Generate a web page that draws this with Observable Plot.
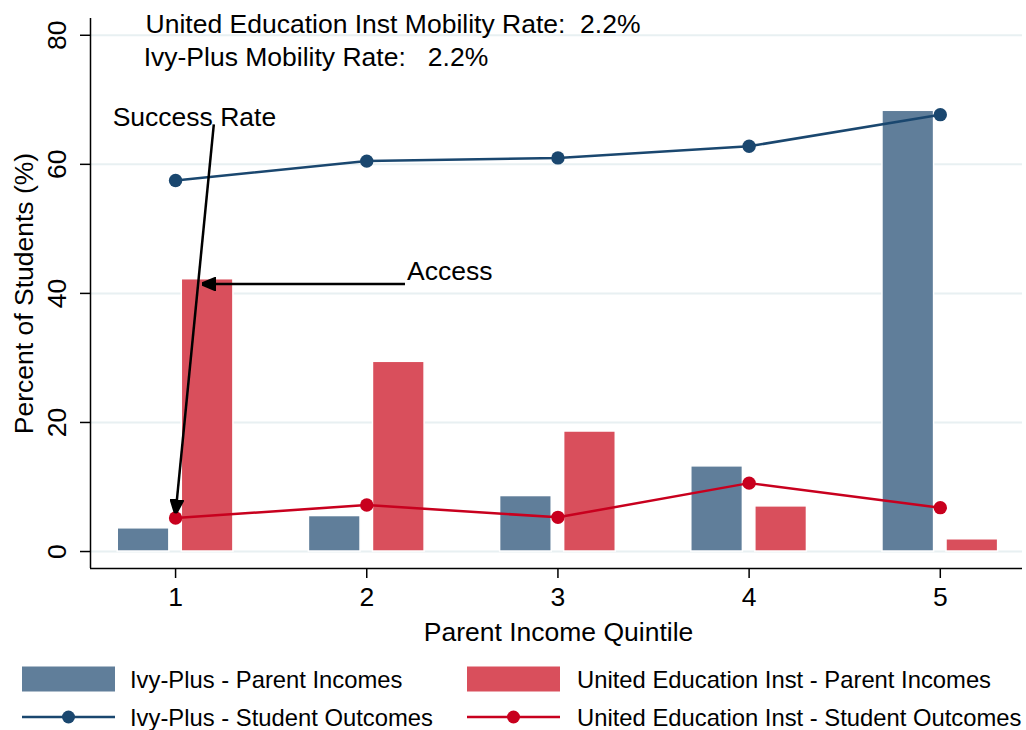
<!DOCTYPE html>
<html><head><meta charset="utf-8">
<script src="https://cdn.jsdelivr.net/npm/d3@7"></script>
<script src="https://cdn.jsdelivr.net/npm/@observablehq/plot@0.6"></script>
<style>
body{margin:0;background:#fff;}
#chart,#legend{width:1026px;font-family:"Liberation Sans",Arial,sans-serif;}
</style>
</head><body><div id="chart"></div><div id="legend"></div>
<script>
// ---- data ----
const quintiles = [1, 2, 3, 4, 5];
const ivyParent = [3.6, 5.5, 8.6, 13.2, 68.3];
const uniParent = [42.2, 29.4, 18.6, 7.0, 1.9];
const ivyOutcome = [57.5, 60.5, 61.0, 62.8, 67.7];
const uniOutcome = [5.2, 7.2, 5.3, 10.6, 6.8];
const yTicks = [0, 20, 40, 60, 80];
const seriesNames = ["Ivy-Plus - Parent Incomes", "United Education Inst - Parent Incomes",
                     "Ivy-Plus - Student Outcomes", "United Education Inst - Student Outcomes"];
const xTitle = "Parent Income Quintile";
const yTitle = "Percent of Students (%)";
const noteLabels = ["United Education Inst Mobility Rate:\u00a0\u00a02.2%",
                    "Ivy-Plus Mobility Rate:\u00a0\u00a0\u00a02.2%", "Success Rate", "Access"];
const noteX = [0.843, 0.833, 0.671, 2.211];
const noteY = [81.7, 76.6, 67.3, 43.4];
const arrowX1 = [1.2, 2.2], arrowY1 = [66.2, 41.45];
const arrowX2 = [1.0, 1.14], arrowY2 = [5.93, 41.45];

const xDomain = [0.555, 5.43];
const yDomain = [-2.63, 82.6];
const C = {ivyBar: "#607e9a", uniBar: "#d94f5c", ivyLine: "#1a476f", uniLine: "#c8001e", grid: "#e8f0f2"};

const barRows = quintiles.flatMap((q, i) => [
  {q, v: ivyParent[i], s: "ivy"}, {q, v: uniParent[i], s: "uni"}]);
const ivyRows = quintiles.map((q, i) => ({q, v: ivyOutcome[i]}));
const uniRows = quintiles.map((q, i) => ({q, v: uniOutcome[i]}));
const notes = noteLabels.map((t, i) => ({t, x: noteX[i], y: noteY[i]}));
const arrows = arrowX1.map((x, i) => ({x1: x, y1: arrowY1[i], x2: arrowX2[i], y2: arrowY2[i]}));

const BW = 0.27, OFF = 0.1675;
const FS = 26.5;

function filledArrow(color, context) {
  const doc = (context && context.document) || document;
  const ns = "http://www.w3.org/2000/svg";
  const m = doc.createElementNS(ns, "marker");
  m.setAttribute("viewBox", "-10 -5 10 10");
  m.setAttribute("markerWidth", "5.5");
  m.setAttribute("markerHeight", "5.5");
  m.setAttribute("orient", "auto");
  const p = doc.createElementNS(ns, "path");
  p.setAttribute("d", "M0,0L-10,-4.2L-10,4.2Z");
  p.setAttribute("fill", color);
  m.appendChild(p);
  return m;
}

function build(useCustom) {
  const arrowMark = useCustom
    ? Plot.link(arrows, {x1: "x1", y1: "y1", x2: "x2", y2: "y2", stroke: "black", strokeWidth: 2.5, markerEnd: filledArrow})
    : Plot.arrow(arrows, {x1: "x1", y1: "y1", x2: "x2", y2: "y2", stroke: "black", strokeWidth: 2.5, headLength: 14, headAngle: 45});
  return Plot.plot({
    width: 1026, height: 650,
    marginLeft: 90, marginRight: 4, marginTop: 18, marginBottom: 82,
    style: {fontFamily: '"Liberation Sans", Arial, sans-serif', fontSize: FS + "px", color: "black", background: "white", overflow: "visible"},
    x: {domain: xDomain},
    y: {domain: yDomain},
    marks: [
      Plot.ruleY(yTicks, {stroke: C.grid, strokeWidth: 2}),
      Plot.rect(barRows, {
        x1: d => d.q + (d.s === "ivy" ? -OFF : OFF) - BW / 2,
        x2: d => d.q + (d.s === "ivy" ? -OFF : OFF) + BW / 2,
        y1: d => 0, y2: "v",
        fill: d => d.s === "ivy" ? C.ivyBar : C.uniBar,
        stroke: "white", strokeWidth: 1.5
      }),
      Plot.line(ivyRows, {x: "q", y: "v", stroke: C.ivyLine, strokeWidth: 2.5}),
      Plot.dot(ivyRows, {x: "q", y: "v", r: 6.7, fill: C.ivyLine}),
      Plot.line(uniRows, {x: "q", y: "v", stroke: C.uniLine, strokeWidth: 2.5}),
      Plot.dot(uniRows, {x: "q", y: "v", r: 6.7, fill: C.uniLine}),
      arrowMark,
      Plot.text(notes, {x: "x", y: "y", text: "t", textAnchor: "start", lineAnchor: "middle", fontSize: FS, fill: "black"}),
      Plot.ruleX([xDomain[0]], {stroke: "black", strokeWidth: 1.5}),
      Plot.ruleY([yDomain[0]], {stroke: "black", strokeWidth: 1.5}),
      Plot.axisX({ticks: quintiles, tickSize: 10, tickPadding: 9, fontSize: FS, label: null, strokeWidth: 1.5, tickFormat: d => String(d)}),
      Plot.axisY({ticks: yTicks, tickSize: 10, label: null, strokeWidth: 1.5, tickFormat: () => ""}),
      Plot.text(yTicks, {y: d => d, text: d => String(d), frameAnchor: "left", dx: -33, rotate: -90, textAnchor: "middle", lineAnchor: "middle", fontSize: FS}),
      Plot.text([yTitle], {frameAnchor: "left", dx: -66, rotate: -90, textAnchor: "middle", lineAnchor: "middle", fontSize: FS}),
      Plot.text([xTitle], {frameAnchor: "bottom", dy: 64, dx: 2, textAnchor: "middle", lineAnchor: "middle", fontSize: FS})
    ]
  });
}

let chart;
try { chart = build(true); } catch (e) { chart = build(false); }
document.getElementById("chart").append(chart);

// ---- legend ----
const lg = d3.select("#legend").append("svg").attr("width", 1026).attr("height", 80)
  .style("font-family", '"Liberation Sans", Arial, sans-serif').style("display", "block");
const items = [
  {type: "bar", color: C.ivyBar, x: 22, label: seriesNames[0], tx: 130, row: 0},
  {type: "bar", color: C.uniBar, x: 467, label: seriesNames[1], tx: 577, row: 0},
  {type: "line", color: C.ivyLine, x: 22, label: seriesNames[2], tx: 130, row: 1},
  {type: "line", color: C.uniLine, x: 467, label: seriesNames[3], tx: 577, row: 1}
];
const rowC = [29, 67];
items.forEach(it => {
  const cy = rowC[it.row];
  if (it.type === "bar") {
    lg.append("rect").attr("x", it.x).attr("y", cy - 12.5).attr("width", 93).attr("height", 25).attr("fill", it.color);
  } else {
    lg.append("line").attr("x1", it.x).attr("x2", it.x + 93).attr("y1", cy).attr("y2", cy).attr("stroke", it.color).attr("stroke-width", 2.7);
    lg.append("circle").attr("cx", it.x + 46.5).attr("cy", cy).attr("r", 6.5).attr("fill", it.color);
  }
  lg.append("text").attr("x", it.tx).attr("y", cy + 8.5).attr("font-size", 23.8).attr("fill", "black").text(it.label);
});
</script></body></html>
